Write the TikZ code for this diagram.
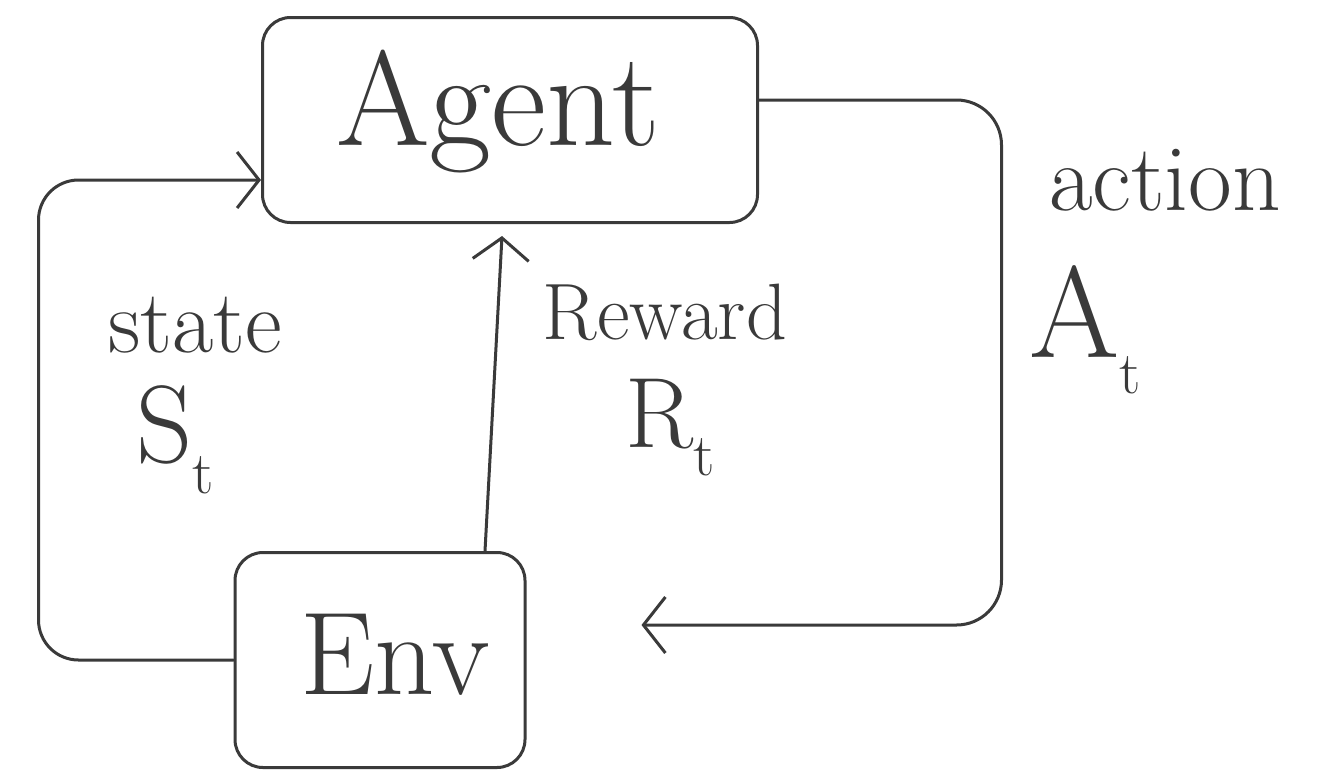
\documentclass[tikz,border=0pt]{standalone}
\usepackage{fontspec}
\setmainfont{Latin Modern Roman}
\usetikzlibrary{arrows.meta}
\definecolor{ink}{HTML}{3A3A3A}
\tikzset{
  box/.style={draw=ink, line width=3pt, rounded corners=28pt, inner sep=0pt},
  arr/.style={draw=ink, line width=3pt, line cap=round, line join=round,
    -{Straight Barb[length=22pt, width=56pt, line width=3pt]}},
  lbl/.style={text=ink, inner sep=0pt, anchor=center}
}
\newcommand{\sz}[1]{\fontsize{#1}{#1}\selectfont}
\newcommand{\subs}[1]{\raisebox{-0.28em}{\sz{60}#1}}
\begin{document}
\begin{tikzpicture}[x=1pt, y=-1pt]
\useasboundingbox[fill=white] (0,0) rectangle (1328,780);
% boxes
\node[box, minimum width=495pt, minimum height=205pt] (agent) at (510,120) {};
\node[lbl, font=\sz{135}] (agenttxt) at (498,112) {Agent};
\node[box, minimum width=290pt, minimum height=215pt] (env) at (380,660) {};
\node[lbl, font=\sz{118}] (envtxt) at (395,655) {Env};
% connectors
\draw[arr, rounded corners=40pt] (env.west) -- ++(-195pt,0) |- ([yshift=-60pt]agent.west);
\draw[arr] ([xshift=105pt]env.north) -- ([xshift=-8pt,yshift=-12pt]agent.south);
\draw[arr, rounded corners=45pt, shorten >=115pt]
  ([yshift=20pt]agent.east) -| ([xshift=475pt,yshift=35pt]env.east) -- ([yshift=35pt]env.east);
% labels
\node[lbl, font=\sz{90}] (state) at (195,325) {state};
\node[lbl, font=\sz{110}] (st) at (175,440) {S\subs{t}};
\node[lbl, font=\sz{80}] (reward) at (665,312) {Reward};
\node[lbl, font=\sz{100}] (rt) at (670,428) {R\subs{t}};
\node[lbl, font=\sz{95}] (action) at (1165,180) {action};
\node[lbl, font=\sz{130}] (at) at (1085,330) {A\subs{t}};
\end{tikzpicture}
\end{document}
